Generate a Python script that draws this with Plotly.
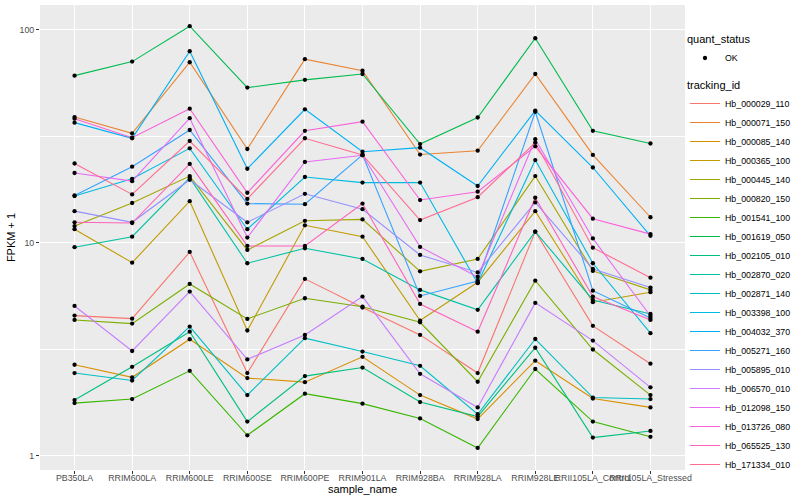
import plotly.graph_objects as go

samples = ["PB350LA", "RRIM600LA", "RRIM600LE", "RRIM600SE", "RRIM600PE", "RRIM901LA",
           "RRIM928BA", "RRIM928LA", "RRIM928LE", "RRII105LA_Control", "RRII105LA_Stressed"]

tracking_ids = ["Hb_000029_110", "Hb_000071_150", "Hb_000085_140", "Hb_000365_100", "Hb_000445_140",
                "Hb_000820_150", "Hb_001541_100", "Hb_001619_050", "Hb_002105_010", "Hb_002870_020",
                "Hb_002871_140", "Hb_003398_100", "Hb_004032_370", "Hb_005271_160", "Hb_005895_010",
                "Hb_006570_010", "Hb_012098_150", "Hb_013726_080", "Hb_065525_130", "Hb_171334_010"]

colors = ["#F8766D", "#EA8331", "#D89000", "#C09B00", "#A3A500", "#7CAE00", "#39B600", "#00BB4E",
          "#00BF7D", "#00C1A3", "#00BFC4", "#00BAE0", "#00B0F6", "#35A2FF", "#9590FF", "#C77CFF",
          "#E76BF3", "#FA62DB", "#FF62BC", "#FF6C91"]

# FPKM + 1 per sample (order of `samples`)
Hb_000029_110 = [4.56, 4.41, 9.07, 2.45, 6.78, 4.97, 3.70, 2.45, 11.3, 4.08, 2.71]
Hb_000071_150 = [39.0, 32.7, 70.5, 27.6, 72.9, 64.4, 26.0, 27.1, 62.1, 25.9, 13.2]
Hb_000085_140 = [2.68, 2.34, 3.53, 2.32, 2.22, 2.92, 1.93, 1.49, 2.80, 1.86, 1.69]
Hb_000365_100 = [11.6, 8.08, 15.7, 3.88, 12.1, 10.7, 4.32, 6.54, 14.1, 5.27, 5.87]
Hb_000445_140 = [12.0, 15.4, 20.6, 9.27, 12.7, 12.9, 7.36, 8.41, 20.6, 7.39, 6.02]
Hb_000820_150 = [4.35, 4.18, 6.42, 4.40, 5.50, 5.02, 4.24, 2.23, 6.65, 3.16, 1.93]
Hb_001541_100 = [1.77, 1.85, 2.51, 1.25, 1.96, 1.76, 1.50, 1.09, 2.56, 1.45, 1.23]
Hb_001619_050 = [61.0, 71.0, 104.1, 53.6, 58.3, 62.1, 29.1, 38.8, 91.4, 33.6, 29.3]
Hb_002105_010 = [1.83, 2.62, 3.83, 1.45, 2.37, 2.60, 1.79, 1.53, 3.22, 1.22, 1.31]
Hb_002870_020 = [9.55, 10.7, 20.2, 8.03, 9.44, 8.41, 6.02, 4.85, 11.3, 5.40, 4.64]
Hb_002871_140 = [2.45, 2.26, 4.05, 1.93, 3.57, 3.09, 2.65, 1.57, 3.54, 1.88, 1.85]
Hb_003398_100 = [16.6, 20.0, 27.8, 11.6, 20.4, 19.2, 19.2, 6.47, 24.5, 8.03, 3.77]
Hb_004032_370 = [36.7, 31.0, 79.4, 22.3, 42.4, 26.8, 28.0, 18.5, 41.8, 22.6, 10.8]
Hb_005271_160 = [16.7, 22.8, 33.9, 15.3, 15.2, 25.9, 5.64, 6.63, 41.3, 5.97, 4.44]
Hb_005895_010 = [14.1, 12.5, 19.8, 12.5, 17.0, 14.4, 8.78, 7.27, 15.5, 7.55, 6.17]
Hb_006570_010 = [5.06, 3.11, 5.91, 2.84, 3.70, 5.60, 2.43, 1.69, 5.23, 3.48, 2.10]
Hb_012098_150 = [21.3, 19.5, 38.5, 10.6, 24.0, 25.8, 9.58, 6.92, 30.7, 10.5, 4.54]
Hb_013726_080 = [38.3, 31.2, 42.7, 17.2, 33.6, 37.1, 15.9, 17.4, 28.4, 13.0, 11.0]
Hb_065525_130 = [12.5, 12.4, 23.5, 9.68, 9.68, 15.3, 5.17, 3.83, 16.3, 5.60, 4.35]
Hb_171334_010 = [23.6, 16.9, 30.1, 16.1, 31.0, 25.9, 12.8, 16.4, 29.6, 9.50, 6.87]

series = [Hb_000029_110, Hb_000071_150, Hb_000085_140, Hb_000365_100, Hb_000445_140,
          Hb_000820_150, Hb_001541_100, Hb_001619_050, Hb_002105_010, Hb_002870_020,
          Hb_002871_140, Hb_003398_100, Hb_004032_370, Hb_005271_160, Hb_005895_010,
          Hb_006570_010, Hb_012098_150, Hb_013726_080, Hb_065525_130, Hb_171334_010]

FONT = "Liberation Sans"

fig = go.Figure()
for name, col, vals in zip(tracking_ids, colors, series):
    fig.add_trace(go.Scatter(x=samples, y=vals, mode="lines", name=name,
                             line=dict(color=col, width=1.1), legend="legend2"))

all_x = [s for vals in series for s in samples]
all_y = [v for vals in series for v in vals]
fig.add_trace(go.Scatter(x=all_x, y=all_y, mode="markers", name="OK", showlegend=True,
                         marker=dict(color="black", size=4.3), legend="legend"))

fig.update_layout(
    width=800, height=500,
    showlegend=True,
    margin=dict(l=40, r=115, t=5, b=30, autoexpand=False),
    paper_bgcolor="white", plot_bgcolor="#EBEBEB",
    font=dict(family=FONT, size=9, color="#4D4D4D"),
    legend=dict(title=dict(text="quant_status", font=dict(size=11, color="black")),
                x=1.0, y=0.948, xanchor="left", yanchor="top", visible=True,
                font=dict(size=8.8, color="black"), bgcolor="rgba(0,0,0,0)", itemwidth=30),
    legend2=dict(title=dict(text="tracking_id", font=dict(size=11, color="black")),
                 x=1.0, y=0.85, xanchor="left", yanchor="top", visible=True,
                 font=dict(size=8.8, color="black"), bgcolor="rgba(0,0,0,0)", itemwidth=30,
                 tracegroupgap=0),
    xaxis=dict(type="category", categoryorder="array", categoryarray=samples,
               range=[-0.6, len(samples) - 0.4], tickangle=0,
               showgrid=True, gridcolor="white", gridwidth=1.1,
               ticks="outside", ticklen=3, tickcolor="#333333", tickwidth=1,
               ticklabelstandoff=-4,
               tickfont=dict(size=8.8, color="#4D4D4D"), zeroline=False,
               title=dict(text="sample_name", font=dict(size=11, color="black"), standoff=3)),
    yaxis=dict(type="log", range=[-0.066, 2.117],
               tickvals=[1, 10, 100], ticktext=["1", "10", "100"],
               showgrid=True, gridcolor="white", gridwidth=1.1,
               minor=dict(tickvals=[10 ** 0.5, 10 ** 1.5], showgrid=True,
                          gridcolor="white", gridwidth=0.5, ticks=""),
               ticks="outside", ticklen=3, tickcolor="#333333", tickwidth=1,
               tickfont=dict(size=8.8, color="#4D4D4D"), zeroline=False,
               title=dict(text="FPKM + 1", font=dict(size=11, color="black"), standoff=1)),
)

fig.write_html("out.html", config={"displayModeBar": False},
               post_script="document.body.style.margin='0';document.body.style.overflow='hidden';")
